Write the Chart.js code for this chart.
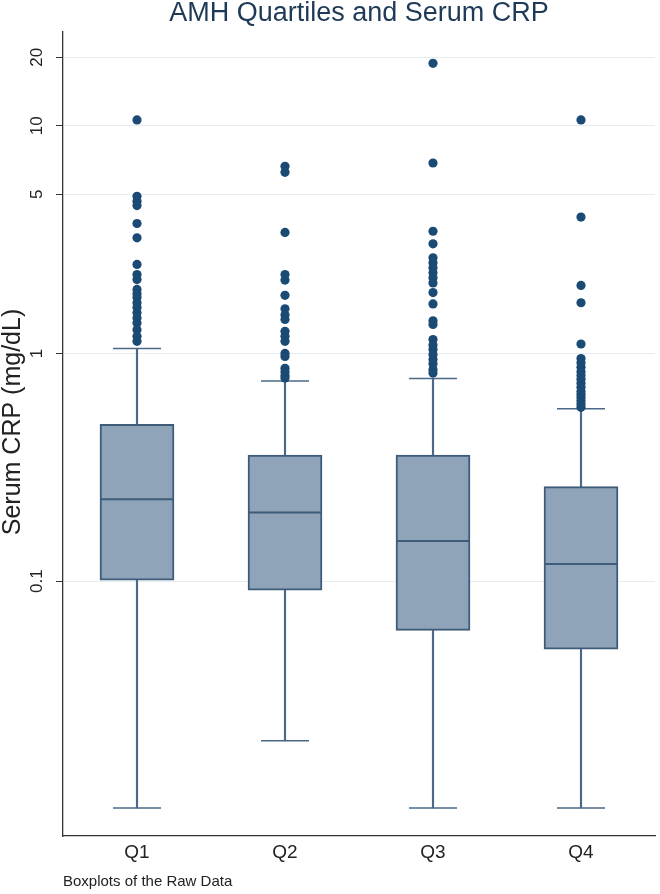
<!DOCTYPE html>
<html>
<head>
<meta charset="utf-8">
<script src="https://cdn.jsdelivr.net/npm/chart.js@4.4.1/dist/chart.umd.min.js"></script>
<style>
  html, body { margin: 0; padding: 0; background: #fff; }
  #wrap { width: 660px; height: 894px; }
</style>
</head>
<body>
<div id="wrap"><canvas id="crpChart" width="660" height="894"></canvas></div>
<script>
// values (mg/dL)
var categories = ["Q1", "Q2", "Q3", "Q4"];
var lowerWhisker = [0.0101, 0.0199, 0.0101, 0.0101];
var lowerQuartile = [0.101, 0.0913, 0.0608, 0.0503];
var medians = [0.229, 0.200, 0.150, 0.119];
var upperQuartile = [0.488, 0.358, 0.358, 0.260];
var upperWhisker = [1.05, 0.756, 0.777, 0.572];

var outliersQ1 = [10.6, 4.90, 4.66, 4.46, 3.72, 3.22, 2.46, 2.22, 2.11, 1.91, 1.83, 1.76, 1.67, 1.59, 1.51, 1.43, 1.36, 1.27, 1.19, 1.13];
var outliersQ2 = [6.63, 6.24, 3.40, 2.22, 2.10, 1.80, 1.57, 1.48, 1.41, 1.25, 1.19, 1.13, 1.00, 0.97, 0.86, 0.83, 0.80, 0.78];
var outliersQ3 = [18.8, 6.86, 3.44, 3.03, 2.63, 2.50, 2.38, 2.26, 2.15, 2.04, 1.85, 1.65, 1.39, 1.34, 1.15, 1.09, 1.04, 0.99, 0.94, 0.90, 0.85, 0.82];
var outliersQ4 = [10.6, 3.97, 1.99, 1.67, 1.10, 0.95, 0.91, 0.87, 0.83, 0.80, 0.77, 0.74, 0.71, 0.68, 0.66, 0.64, 0.62, 0.60, 0.58];

var yTickValues = [0.1, 1, 5, 10, 20];
var yTitle = "Serum CRP (mg/dL)";

Chart.defaults.font.family = '"Liberation Sans", Arial, sans-serif';

var outlierPoints = [];
[outliersQ1, outliersQ2, outliersQ3, outliersQ4].forEach(function (list, i) {
  list.forEach(function (v) { outlierPoints.push({x: categories[i], y: v}); });
});

var capPoints = [];
categories.forEach(function (c, i) {
  capPoints.push({x: c, y: lowerWhisker[i]});
  capPoints.push({x: c, y: upperWhisker[i]});
});

// y tick labels and axis title are drawn turned, as in the original
var rotatedTicks = {
  id: "rotatedTicks",
  afterDraw: function (chart) {
    var y = chart.scales.y;
    var ctx = chart.ctx;
    ctx.save();
    ctx.fillStyle = "#222";
    ctx.textAlign = "center";
    ctx.textBaseline = "middle";
    ctx.font = '17px "Liberation Sans", Arial, sans-serif';
    yTickValues.forEach(function (v) {
      ctx.save();
      ctx.translate(37, y.getPixelForValue(v));
      ctx.rotate(-Math.PI / 2);
      ctx.fillText(String(v), 0, 0);
      ctx.restore();
    });
    ctx.font = '25px "Liberation Sans", Arial, sans-serif';
    ctx.translate(13, (y.top + y.bottom) / 2 - 12);
    ctx.rotate(-Math.PI / 2);
    ctx.fillText(yTitle, 0, 0);
    ctx.restore();
  }
};

var ctx = document.getElementById("crpChart").getContext("2d");
new Chart(ctx, {
  type: "bar",
  data: {
    labels: categories,
    datasets: [
      {
        // whiskers
        type: "bar",
        data: categories.map(function (c, i) { return [lowerWhisker[i], upperWhisker[i]]; }),
        backgroundColor: "#4b6987",
        borderWidth: 0,
        barThickness: 1.5,
        grouped: false,
        order: 3
      },
      {
        // boxes
        type: "bar",
        data: categories.map(function (c, i) { return [lowerQuartile[i], upperQuartile[i]]; }),
        backgroundColor: "#8fa4b8",
        borderColor: "#3e5b79",
        borderWidth: 2,
        borderSkipped: false,
        barThickness: 74,
        grouped: false,
        order: 2
      },
      {
        // whisker caps
        type: "line",
        data: capPoints,
        showLine: false,
        pointStyle: "line",
        pointRadius: 24,
        pointBorderWidth: 1.5,
        pointBorderColor: "#4b6987",
        order: 1
      },
      {
        // medians
        type: "line",
        data: categories.map(function (c, i) { return {x: c, y: medians[i]}; }),
        showLine: false,
        pointStyle: "line",
        pointRadius: 36,
        pointBorderWidth: 2,
        pointBorderColor: "#3e5b79",
        order: 1
      },
      {
        // outside values
        type: "line",
        data: outlierPoints,
        showLine: false,
        pointStyle: "circle",
        pointRadius: 4.6,
        pointBorderWidth: 0,
        pointBackgroundColor: "#1b4a74",
        order: 0
      }
    ]
  },
  options: {
    responsive: false,
    animation: false,
    events: [],
    layout: { autoPadding: false, padding: { top: 0, right: 5, bottom: 0, left: 0 } },
    plugins: {
      legend: { display: false },
      tooltip: { enabled: false },
      title: {
        display: true,
        text: "AMH Quartiles and Serum CRP",
        fullSize: false,
        color: "#1f3a57",
        font: { size: 27, weight: "normal", lineHeight: 1 },
        padding: { top: 0, bottom: 5 }
      },
      subtitle: {
        display: true,
        text: "Boxplots of the Raw Data",
        position: "bottom",
        align: "start",
        fullSize: false,
        color: "#222",
        font: { size: 15 },
        padding: { top: 3, bottom: 3 }
      }
    },
    scales: {
      x: {
        type: "category",
        offset: true,
        grid: { display: false },
        border: { display: true, color: "#333", width: 1.3 },
        ticks: { color: "#222", font: { size: 19 }, padding: -3 },
        afterFit: function (s) { s.height = 34; }
      },
      y: {
        type: "logarithmic",
        position: "left",
        min: 0.0076,
        max: 25.8,
        afterBuildTicks: function (s) {
          s.ticks = yTickValues.map(function (v) { return {value: v}; });
        },
        ticks: { display: false },
        grid: { color: "#e6edf2", tickColor: "#333", tickLength: 7, drawTicks: true },
        border: { color: "#333", width: 1.3 },
        afterFit: function (s) { s.width = 63; }
      }
    }
  },
  plugins: [rotatedTicks]
});
</script>
</body>
</html>
